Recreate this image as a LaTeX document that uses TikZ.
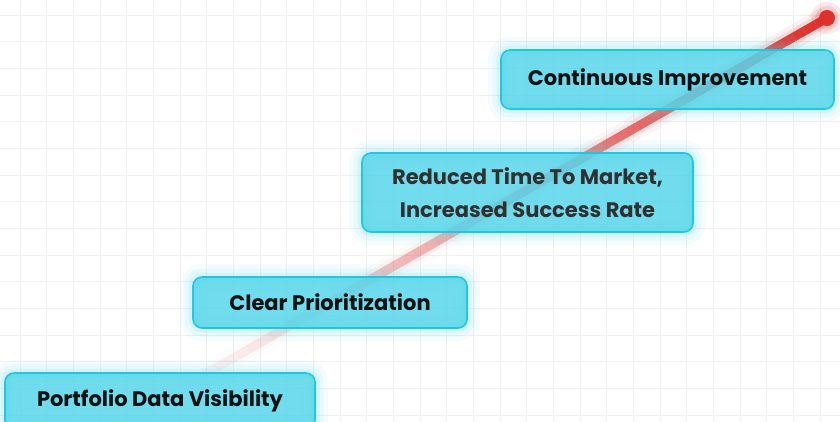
\documentclass[tikz,border=0pt]{standalone}
\usepackage{fontspec}
\setmainfont{Poppins}
\usetikzlibrary{calc}

\definecolor{gridc}{HTML}{F0F0F0}
\definecolor{boxfill}{HTML}{55D6EA}
\definecolor{boxline}{HTML}{1EC8E2}
\definecolor{glowc}{HTML}{5EDBEE}
\definecolor{redc}{HTML}{DE302C}
\definecolor{inkc}{HTML}{111111}
\definecolor{inkg}{HTML}{303030}

\tikzset{
  gridline/.style={draw=gridc, line width=0.9pt},
  stage/.style={
    rounded corners=9pt, fill=boxfill, fill opacity=0.84, text opacity=1,
    draw=boxline, line width=1.6pt, text=inkc, align=center, inner sep=0pt,
    font=\bfseries\fontsize{21}{33}\selectfont,
    preaction={draw=glowc, fill=none, line width=26pt, draw opacity=0.06},
    preaction={draw=glowc, fill=none, line width=17pt, draw opacity=0.09},
    preaction={draw=glowc, fill=none, line width=9pt, draw opacity=0.13}
  },
  tipdot/.style={circle, fill=redc, inner sep=0pt, minimum size=16pt}
}

\begin{document}
\begin{tikzpicture}[x=1pt, y=-1pt]
  \useasboundingbox (0,0) rectangle (840,422);
  \fill[white] (0,0) rectangle (840,422);

  % background grid
  \foreach \k in {-1,...,31} {
    \draw[gridline] ({20+26.667*\k},0) -- ++(0,422);
  }
  \foreach \k in {-1,...,16} {
    \draw[gridline] (0,{15+26.667*\k}) -- ++(840,0);
  }

  % rising trend line, fading towards its start
  \coordinate (lstart) at (160,400);
  \fill[redc, opacity=0.10] (827,18) circle (16pt);
  \fill[redc, opacity=0.14] (827,18) circle (12pt);
  \node[tipdot] (tip) at (827,18) {};
  \foreach \i in {0,...,59} {
    \pgfmathsetmacro\ta{\i/60}
    \pgfmathsetmacro\tb{(\i+1)/60}
    \pgfmathsetmacro\op{((\i+0.5)/60)^1.2}
    \draw[redc, line width=24pt, draw opacity={0.07*\op}]
      ($(lstart)!\ta!(tip.center)$) -- ($(lstart)!\tb!(tip.center)$);
    \draw[redc, line width=16pt, draw opacity={0.12*\op}]
      ($(lstart)!\ta!(tip.center)$) -- ($(lstart)!\tb!(tip.center)$);
    \draw[redc, line width=9pt, draw opacity={\op}]
      ($(lstart)!\ta!(tip.center)$) -- ($(lstart)!\tb!(tip.center)$);
  }

  % milestone boxes
  \node[stage, minimum width=310pt, minimum height=56pt] (s1) at (160,401)
    {Portfolio Data Visibility};
  \node[stage, minimum width=274pt, minimum height=51pt] (s2) at (330,302.5)
    {Clear Prioritization};
  \node[stage, text=inkg, minimum width=331pt, minimum height=79pt] (s3) at (527.5,192.5)
    {Reduced Time To Market,\\Increased Success Rate};
  \node[stage, minimum width=333pt, minimum height=59pt] (s4) at (667.5,79.5)
    {Continuous Improvement};
\end{tikzpicture}
\end{document}
